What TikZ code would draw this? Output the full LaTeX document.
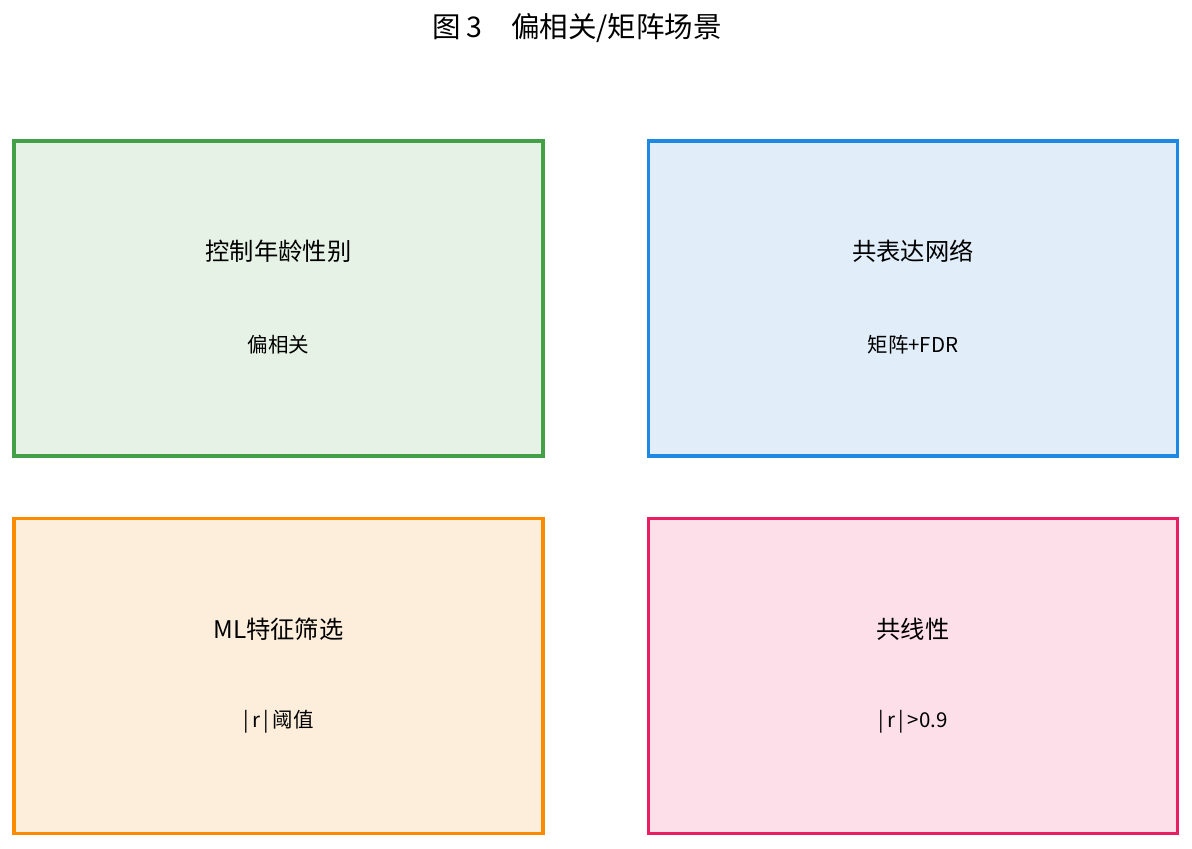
\documentclass[tikz,border=0pt]{standalone}
\usepackage{fontspec}
\setmainfont{Noto Sans CJK SC}
\usetikzlibrary{positioning}

\definecolor{grnline}{HTML}{43A047}
\definecolor{grnfill}{HTML}{E5F2E5}
\definecolor{bluline}{HTML}{1E88E5}
\definecolor{blufill}{HTML}{E1EEFA}
\definecolor{orgline}{HTML}{FB8C00}
\definecolor{orgfill}{HTML}{FDEEDC}
\definecolor{pnkline}{HTML}{E91E63}
\definecolor{pnkfill}{HTML}{FCDFE9}

\begin{document}
\begin{tikzpicture}[x=1pt, y=-1pt]
            \tikzstyle{panel}=[rectangle, line width=3.2pt, minimum width=529pt, minimum height=315pt, inner sep=0pt]
            \tikzstyle{head}=[font=\fontsize{24.3}{28}\selectfont]
            \tikzstyle{sub}=[font=\fontsize{20.5}{24}\selectfont]

            \useasboundingbox (0,0) rectangle (1192,849);

            \node[font=\fontsize{28.5}{32}\selectfont] (T) at (577,28) {图 3\quad 偏相关/矩阵场景};

            \node[panel, draw=grnline, fill=grnfill] (P1) at (278.5,298.5) {};
            \node[panel, draw=bluline, fill=blufill] (P2) at (913,298.5) {};
            \node[panel, draw=orgline, fill=orgfill] (P3) at (278.5,676) {};
            \node[panel, draw=pnkline, fill=pnkfill] (P4) at (913,676) {};

            \node[head] (H1) at (278.5,251) {控制年龄性别};
            \node[sub] (S1) at (278.5,345) {偏相关};
            \node[head] (H2) at (913,251) {共表达网络};
            \node[sub] (S2) at (913,345) {矩阵+FDR};
            \node[head] (H3) at (278.5,629) {ML特征筛选};
            \node[sub] (S3) at (278.5,722) {|\,r\,|\,阈值};
            \node[head] (H4) at (913,629) {共线性};
            \node[sub] (S4) at (913,722) {|\,r\,|\,>0.9};

          \end{tikzpicture}
\end{document}
